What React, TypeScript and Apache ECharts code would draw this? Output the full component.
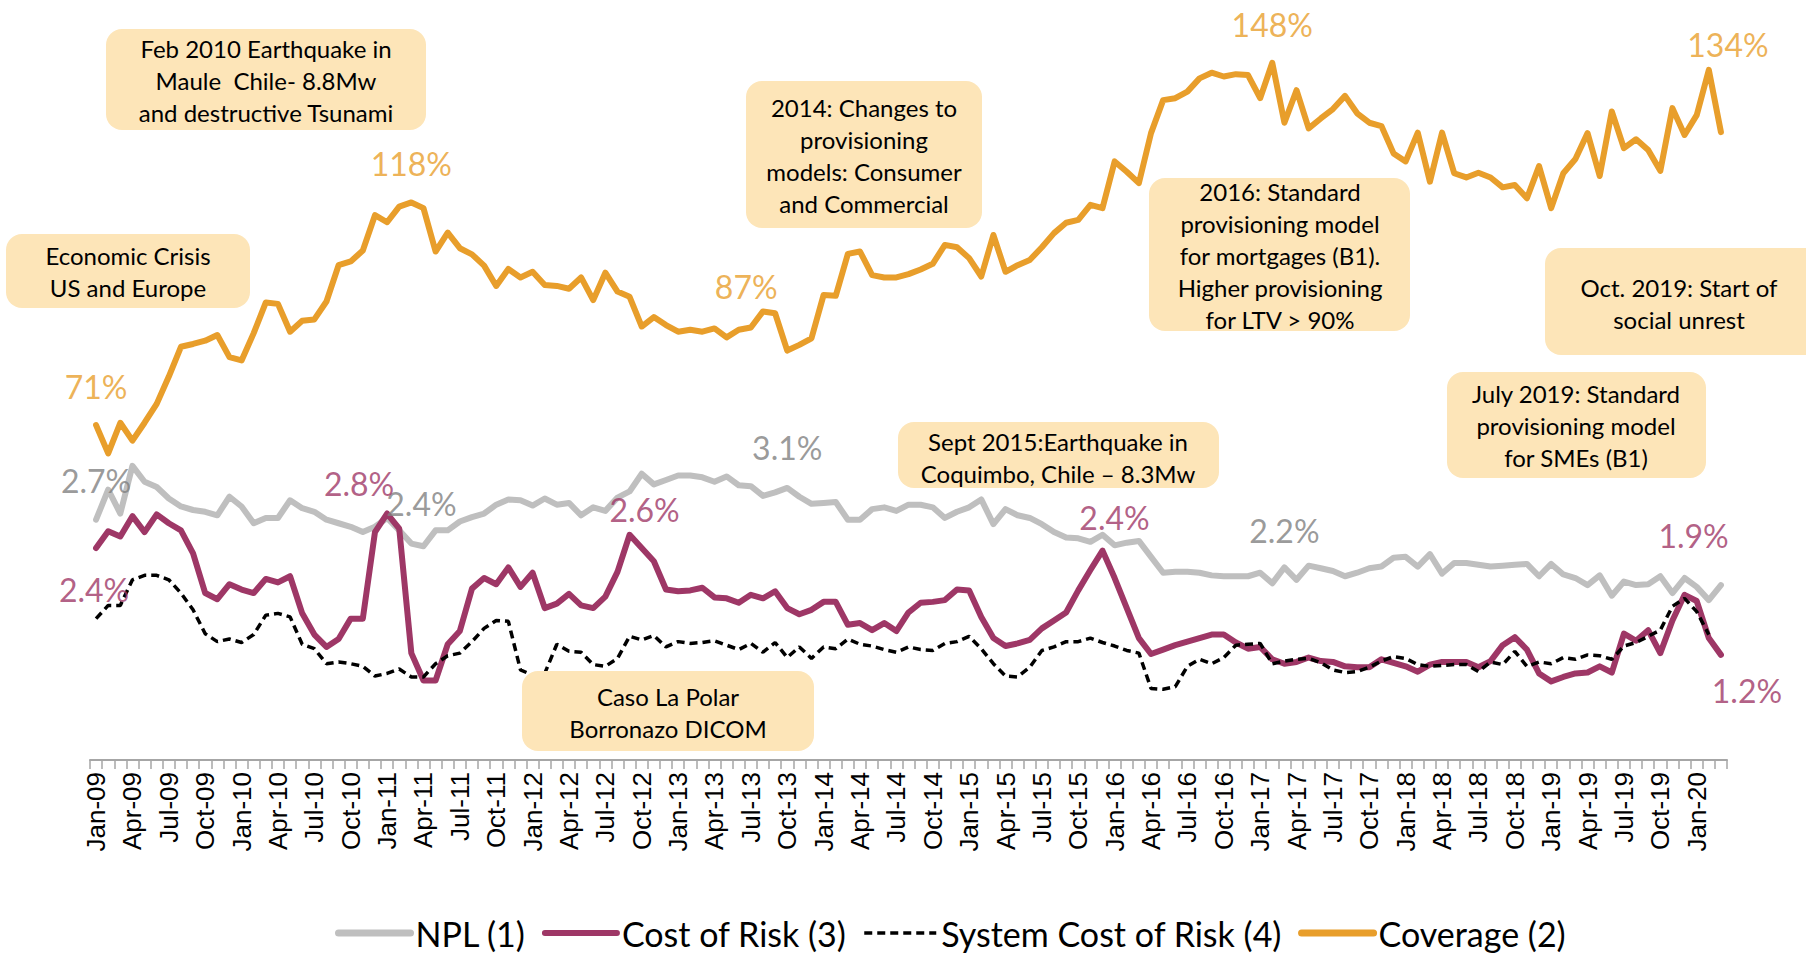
import React, { useEffect, useRef } from "react";
import * as echarts from "echarts";

// ---------- DATA ----------
const monthNames = ["Jan", "Feb", "Mar", "Apr", "May", "Jun", "Jul", "Aug", "Sep", "Oct", "Nov", "Dec"];
const startYear = 2009;
const monthCount = 135; // Jan-09 .. Mar-20
const categories: string[] = [];
for (let k = 0; k < monthCount; k++) {
  const y = startYear + Math.floor(k / 12);
  categories.push(`${monthNames[k % 12]}-${String(y % 100).padStart(2, "0")}`);
}

const npl = [
  2.72, 3.06, 2.79, 3.33, 3.15, 3.09, 2.96, 2.87, 2.83, 2.81, 2.77, 2.98,
  2.87, 2.68, 2.74, 2.74, 2.94, 2.85, 2.81, 2.72, 2.68, 2.64, 2.58, 2.64,
  2.74, 2.60, 2.45, 2.42, 2.60, 2.60, 2.70, 2.75, 2.79, 2.89, 2.95, 2.94,
  2.88, 2.96, 2.89, 2.91, 2.77, 2.86, 2.82, 2.97, 3.04, 3.24, 3.12, 3.17,
  3.22, 3.22, 3.20, 3.15, 3.21, 3.11, 3.10, 2.99, 3.03, 3.08, 2.98, 2.90,
  2.91, 2.92, 2.72, 2.72, 2.84, 2.86, 2.82, 2.89, 2.89, 2.86, 2.74, 2.81,
  2.86, 2.95, 2.67, 2.84, 2.77, 2.74, 2.67, 2.58, 2.52, 2.51, 2.47, 2.55,
  2.43, 2.46, 2.48, 2.30, 2.12, 2.13, 2.13, 2.12, 2.09, 2.08, 2.08, 2.08,
  2.12, 2.00, 2.18, 2.04, 2.20, 2.17, 2.14, 2.08, 2.12, 2.17, 2.19, 2.29,
  2.30, 2.19, 2.33, 2.11, 2.23, 2.23, 2.21, 2.19, 2.20, 2.21, 2.22, 2.08,
  2.22, 2.10, 2.06, 1.98, 2.09, 1.86, 2.02, 1.98, 1.99, 2.08, 1.89, 2.06,
  1.96, 1.81, 1.98,
];

const costOfRisk = [
  2.40, 2.59, 2.53, 2.76, 2.58, 2.78, 2.68, 2.60, 2.34, 1.89, 1.82, 1.99,
  1.93, 1.89, 2.05, 2.01, 2.08, 1.66, 1.42, 1.28, 1.37, 1.60, 1.60, 2.58,
  2.79, 2.62, 1.21, 0.90, 0.90, 1.31, 1.46, 1.94, 2.06, 1.99, 2.18, 1.96,
  2.12, 1.72, 1.77, 1.88, 1.75, 1.72, 1.85, 2.13, 2.55, 2.40, 2.25, 1.93,
  1.91, 1.92, 1.95, 1.84, 1.83, 1.78, 1.87, 1.83, 1.91, 1.72, 1.65, 1.70,
  1.79, 1.79, 1.53, 1.55, 1.47, 1.55, 1.46, 1.67, 1.78, 1.79, 1.81, 1.93,
  1.92, 1.62, 1.38, 1.29, 1.32, 1.36, 1.49, 1.58, 1.67, 1.92, 2.15, 2.37,
  2.06, 1.72, 1.38, 1.20, 1.25, 1.30, 1.34, 1.38, 1.42, 1.42, 1.33, 1.26,
  1.28, 1.14, 1.09, 1.11, 1.16, 1.12, 1.11, 1.06, 1.05, 1.05, 1.14, 1.10,
  1.06, 1.00, 1.08, 1.11, 1.11, 1.11, 1.05, 1.12, 1.30, 1.39, 1.25, 0.98,
  0.89, 0.94, 0.98, 0.99, 1.06, 0.99, 1.43, 1.35, 1.47, 1.21, 1.58, 1.87,
  1.80, 1.38, 1.19,
];

const systemCostOfRisk: (number | null)[] = [
  1.60, 1.75, 1.75, 2.04, 2.09, 2.09, 2.04, 1.89, 1.70, 1.43, 1.34, 1.37,
  1.33, 1.42, 1.64, 1.66, 1.62, 1.31, 1.26, 1.09, 1.11, 1.09, 1.06, 0.95,
  0.98, 1.03, 0.94, 0.94, 1.09, 1.18, 1.21, 1.34, 1.49, 1.58, 1.57, 1.02,
  0.96, 0.98, 1.31, 1.23, 1.22, 1.08, 1.06, 1.15, 1.40, 1.36, 1.41, 1.28,
  1.34, 1.32, 1.33, 1.35, 1.30, 1.25, 1.32, 1.22, 1.33, 1.16, 1.28, 1.15,
  1.28, 1.26, 1.37, 1.31, 1.29, 1.25, 1.22, 1.28, 1.25, 1.24, 1.32, 1.34,
  1.40, 1.26, 1.09, 0.95, 0.94, 1.05, 1.24, 1.28, 1.34, 1.34, 1.38, 1.33,
  1.29, 1.24, 1.21, 0.81, 0.80, 0.83, 1.06, 1.14, 1.09, 1.16, 1.30, 1.31,
  1.32, 1.09, 1.12, 1.14, 1.15, 1.10, 1.02, 0.99, 1.00, 1.05, 1.12, 1.17,
  1.15, 1.08, 1.06, 1.07, 1.08, 1.08, 1.00, 1.11, 1.08, 1.23, 1.06, 1.11,
  1.09, 1.16, 1.14, 1.19, 1.18, 1.14, 1.29, 1.33, 1.40, 1.47, 1.74, 1.83,
  1.68, 1.42, null,
];

const coverage = [
  71.0, 65.0, 71.5, 67.7, 71.5, 75.5, 81.3, 87.6, 88.2, 88.9, 90.1, 85.4,
  84.7, 90.5, 97.0, 96.7, 90.8, 93.1, 93.4, 97.2, 104.9, 105.7, 108.0, 115.5,
  114.0, 117.3, 118.2, 117.0, 107.8, 111.8, 108.5, 107.2, 104.8, 100.5, 104.1, 102.3,
  103.5, 100.7, 100.5, 99.9, 102.3, 97.5, 103.3, 99.3, 98.2, 91.9, 93.9, 92.2,
  90.8, 91.2, 90.8, 91.5, 89.6, 91.2, 91.7, 95.1, 94.7, 86.8, 88.0, 89.4,
  98.6, 98.4, 107.3, 107.8, 102.8, 102.3, 102.3, 103.0, 104.0, 105.2, 109.2, 108.7,
  106.4, 102.5, 111.3, 103.5, 104.9, 106.0, 108.7, 111.7, 113.9, 114.5, 117.7, 117.0,
  126.9, 124.7, 122.3, 132.9, 139.9, 140.3, 141.7, 144.5, 145.7, 144.9, 145.4, 145.2,
  140.3, 147.8, 135.1, 142.0, 133.9, 136.0, 138.0, 140.8, 137.1, 135.1, 134.4, 128.6,
  126.9, 133.0, 122.6, 133.0, 124.4, 123.5, 124.5, 123.5, 121.4, 121.9, 119.1, 125.9,
  117.0, 124.4, 127.4, 132.9, 123.8, 137.5, 129.7, 131.6, 129.3, 124.9, 138.2, 132.5,
  136.7, 146.3, 133.1,
];

// Value callouts: which month index each highlighted value belongs to
const coverageCallouts = [
  { index: 0, text: "71%" },
  { index: 26, text: "118%" },
  { index: 57, text: "87%" },
  { index: 97, text: "148%" },
  { index: 134, text: "134%" },
];
const nplCallouts = [
  { index: 0, text: "2.7%" },
  { index: 27, text: "2.4%" },
  { index: 57, text: "3.1%" },
  { index: 98, text: "2.2%" },
];
const corCallouts = [
  { index: 0, text: "2.4%" },
  { index: 24, text: "2.8%" },
  { index: 44, text: "2.6%" },
  { index: 83, text: "2.4%" },
  { index: 131, text: "1.9%" },
  { index: 134, text: "1.2%" },
];

const annotationTexts = [
  "Feb 2010 Earthquake in\nMaule  Chile- 8.8Mw\nand destructive Tsunami",
  "Economic Crisis\nUS and Europe",
  "2014: Changes to\nprovisioning\nmodels: Consumer\nand Commercial",
  "2016: Standard\nprovisioning model\nfor mortgages (B1).\nHigher provisioning\nfor LTV > 90%",
  "Oct. 2019: Start of\nsocial unrest",
  "July 2019: Standard\nprovisioning model\nfor SMEs (B1)",
  "Sept 2015:Earthquake in\nCoquimbo, Chile \u2013 8.3Mw",
  "Caso La Polar\nBorronazo DICOM",
];

const legendNames = ["NPL (1)", "Cost of Risk (3)", "System Cost of Risk (4)", "Coverage (2)"];

// ---------- LAYOUT / STYLE ----------
const COLORS = {
  npl: "#BFBFBF",
  nplText: "#808080",
  cor: "#9E3766",
  sys: "#000000",
  cov: "#E89E2B",
  box: "#FDE5B8",
};
const TEXT_FONT = "Lato, 'Open Sans', sans-serif";

// label offsets (px) relative to the data point
const covOffsets: [number, number][] = [[0, -39], [0, -39], [-41, -64], [0, -38], [7, -88]];
const nplOffsets: [number, number][] = [[0, -39], [-2, -43], [0, -40], [0, -37]];
const corOffsets: [number, number][] = [[-2, 42], [-28, -30], [15, -25], [12, -33], [9, -59], [26, 36]];

// annotation boxes: [x, y, w, h, textCenterX, textCenterY]
const boxLayout: number[][] = [
  [106, 29, 320, 101, 266, 80],
  [6, 234, 244, 74, 128, 271],
  [746, 81, 236, 147, 864, 155],
  [1149, 178, 261, 153, 1280, 255],
  [1545, 248, 280, 107, 1679, 303],
  [1447, 372, 259, 106, 1576, 425],
  [898, 422, 321, 66, 1058, 457],
  [522, 671, 292, 80, 668, 712],
];

// legend line widths per item
const legendLineWidths = [7, 6, 3.5, 7];

function calloutSeries(
  name: string,
  values: (number | null)[],
  callouts: { index: number; text: string }[],
  offsets: [number, number][],
  color: string,
  yAxisIndex: number
) {
  return {
    name,
    type: "scatter",
    yAxisIndex,
    symbolSize: 1,
    itemStyle: { color: "rgba(0,0,0,0)" },
    silent: true,
    z: 5,
    data: callouts.map((c, k) => ({
      value: [c.index, values[c.index]],
      label: {
        show: true,
        position: "inside",
        formatter: c.text,
        offset: offsets[k],
        color,
        fontFamily: TEXT_FONT,
        fontSize: 32,
      },
    })),
  };
}

export default function App() {
  const ref = useRef<HTMLDivElement>(null);

  useEffect(() => {
    if (!ref.current) return;
    const chart = echarts.init(ref.current, undefined, { renderer: "svg" });

    const graphics: any[] = [];
    annotationTexts.forEach((t, k) => {
      const [x, y, w, h, cx, cy] = boxLayout[k];
      graphics.push({
        type: "rect",
        shape: { x, y, width: w, height: h, r: 16 },
        style: { fill: COLORS.box },
        z: 100,
      });
      graphics.push({
        type: "text",
        x: cx,
        y: cy,
        style: {
          text: t,
          fill: "#000",
          fontFamily: TEXT_FONT,
          fontSize: 24,
          lineHeight: 32,
          align: "center",
          verticalAlign: "middle",
          textAlign: "center",
          textVerticalAlign: "middle",
        },
        z: 101,
      });
    });

    chart.setOption({
      animation: false,
      backgroundColor: "#ffffff",
      grid: { left: 90, right: 79, top: 10, bottom: 194, containLabel: false, outerBoundsMode: "none" },
      legend: {
        data: legendNames.map((n, k) => ({
          name: n,
          itemStyle: { opacity: 0 },
          lineStyle: { width: legendLineWidths[k], cap: k === 2 ? "butt" : "round" },
        })),
        top: 911,
        left: 330,
        itemWidth: 72,
        itemHeight: 14,
        itemGap: 16,
        textStyle: { fontFamily: TEXT_FONT, fontSize: 34, color: "#000" },
      },
      xAxis: {
        type: "category",
        data: categories,
        boundaryGap: true,
        axisLine: { lineStyle: { color: "#A6A6A6", width: 2 } },
        axisTick: { show: true, interval: 0, length: 9, lineStyle: { color: "#A6A6A6", width: 1.5 } },
        axisLabel: {
          interval: 2,
          rotate: 90,
          margin: 12,
          color: "#000",
          fontFamily: "'Liberation Sans', Arial, sans-serif",
          fontSize: 26,
        },
        splitLine: { show: false },
      },
      yAxis: [
        { type: "value", min: 0, max: 8.49, show: false, splitLine: { show: false } },
        { type: "value", min: 0, max: 159, show: false, splitLine: { show: false } },
      ],
      series: [
        {
          name: "NPL (1)",
          type: "line",
          data: npl,
          yAxisIndex: 0,
          symbol: "none",
          color: COLORS.npl,
          lineStyle: { color: COLORS.npl, width: 6, join: "round", cap: "round" },
          z: 2,
        },
        {
          name: "Cost of Risk (3)",
          type: "line",
          data: costOfRisk,
          yAxisIndex: 0,
          symbol: "none",
          color: COLORS.cor,
          lineStyle: { color: COLORS.cor, width: 6, join: "round", cap: "round" },
          z: 3,
        },
        {
          name: "System Cost of Risk (4)",
          type: "line",
          data: systemCostOfRisk,
          yAxisIndex: 0,
          symbol: "none",
          color: COLORS.sys,
          lineStyle: { color: COLORS.sys, width: 3.5, type: [8, 5] },
          z: 4,
        },
        {
          name: "Coverage (2)",
          type: "line",
          data: coverage,
          yAxisIndex: 1,
          symbol: "none",
          color: COLORS.cov,
          lineStyle: { color: COLORS.cov, width: 6, join: "round", cap: "round" },
          z: 4,
        },
        calloutSeries("covLabels", coverage, coverageCallouts, covOffsets, COLORS.cov, 1),
        calloutSeries("nplLabels", npl, nplCallouts, nplOffsets, COLORS.nplText, 0),
        calloutSeries("corLabels", costOfRisk, corCallouts, corOffsets, COLORS.cor, 0),
      ],
      graphic: { elements: graphics },
    });

    return () => chart.dispose();
  }, []);

  return (
    <div
      ref={ref}
      style={{ position: "fixed", left: 0, top: 0, width: 1806, height: 954, background: "#fff" }}
    />
  );
}
